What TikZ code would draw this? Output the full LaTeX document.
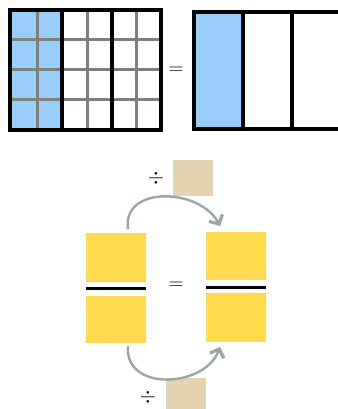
\documentclass[tikz,border=0pt]{standalone}
\usetikzlibrary{arrows.meta}
\definecolor{skyb}{HTML}{99CEFB}
\definecolor{gridg}{HTML}{7D817C}
\definecolor{yel}{HTML}{FFDA4D}
\definecolor{tan}{HTML}{E4D3B0}
\definecolor{arcg}{HTML}{9DA5A3}
\begin{document}
\begin{tikzpicture}[x=1pt,y=-1pt,
  glines/.style={gridg,line width=3pt},
  blines/.style={black,line width=3.5pt},
  ybox/.style={fill=yel,draw=none,minimum width=60pt,inner sep=0pt},
  tbox/.style={fill=tan,draw=none,minimum width=40pt,inner sep=0pt},
  sym/.style={font=\fontsize{21}{24}\selectfont,inner sep=0pt},
  fbar/.style={black,line width=3pt},
  arc/.style={arcg,line width=2.4pt,-{Straight Barb[length=7pt,width=15pt,line width=3.2pt]}}]
\useasboundingbox (0,0) rectangle (337,409);
% left grid
\fill[skyb] (10,10) rectangle (62,130);
\foreach \x in {37,87,136} \draw[glines] (\x,10) -- (\x,130);
\foreach \y in {40,70,100} \draw[glines] (10,\y) -- (161,\y);
\draw[blines] (62,10) -- (62,130) (112,10) -- (112,130);
\draw[blines] (10,10) rectangle (161,130);
\node[sym] (eq1) at (176,71) {$=$};
% right strip
\fill[skyb] (194,12) rectangle (243,129);
\draw[blines] (243,12) -- (243,129) (292,12) -- (292,129);
\draw[blines] (194,12) rectangle (345,129);
% fractions
\node[ybox,minimum height=49pt] (lt) at (116,257.5) {};
\node[ybox,minimum height=47pt] (lb) at (116,319.5) {};
\node[ybox,minimum height=48pt] (rt) at (236,256) {};
\node[ybox,minimum height=49pt] (rb) at (236,317.5) {};
\draw[fbar] (lt.west |- 0,288.5) -- (lt.east |- 0,288.5);
\draw[fbar] (rt.west |- 0,287) -- (rt.east |- 0,287);
\node[sym] (eq2) at (176,286) {$=$};
% tan boxes
\node[tbox,minimum height=36pt] (tt) at (193,178) {};
\node[sym] (dt) at (156,178) {$\div$};
\node[tbox,minimum height=34pt] (tb) at (185.5,395) {};
\node[sym] (db) at (148,397) {$\div$};
% arcs
\coordinate (a1) at (128,229);
\coordinate (a2) at (220,226);
\coordinate (b1) at (128,346);
\coordinate (b2) at (220,347);
\draw[arc] (a1) .. controls (122,185) and (200,188) .. (a2);
\draw[arc] (b1) .. controls (124,392) and (205,388) .. (b2);
\end{tikzpicture}
\end{document}
